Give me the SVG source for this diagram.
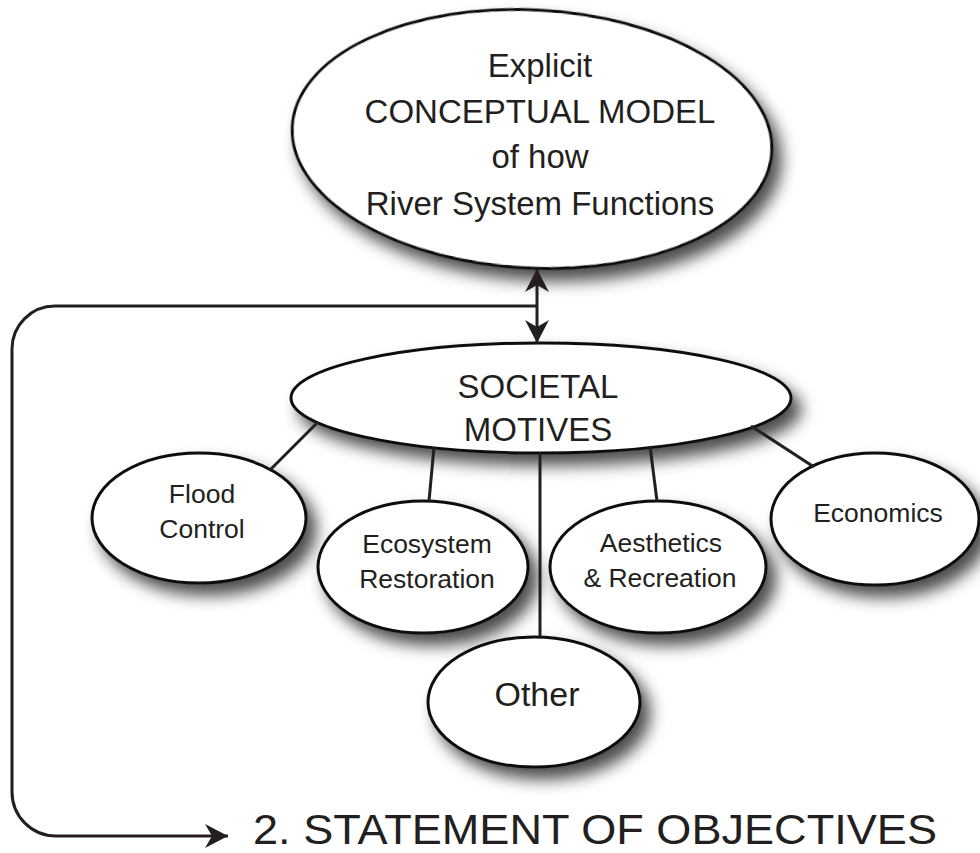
<svg xmlns="http://www.w3.org/2000/svg" width="980" height="853" viewBox="0 0 980 853">
<style>
.node{fill:#fff;stroke:#111;stroke-width:3;filter:url(#shadow)}
.lbl{font-family:"Liberation Sans",Arial,sans-serif;fill:#231f20;text-anchor:middle}
.big{font-size:33px}
.small{font-size:26.5px}
.conn{fill:none;stroke:#231f20;stroke-width:3}
</style>
<defs>
<filter id="shadow" x="-20%" y="-20%" width="150%" height="160%">
<feDropShadow dx="9" dy="11" stdDeviation="8" flood-color="#000" flood-opacity="0.7"/>
</filter>
<marker id="arr" viewBox="-24 -13 26 26" refX="0" refY="0" markerWidth="26" markerHeight="26" markerUnits="userSpaceOnUse" orient="auto-start-reverse">
<path d="M0,0 L-23,-12 L-16,0 L-23,12 Z" fill="#231f20"/>
</marker>
</defs>
<g id="node-model">
<ellipse class="node" cx="532" cy="139" rx="240" ry="129" transform="rotate(3 532 139)"/>
<text class="lbl big" x="540" y="77">Explicit</text>
<text class="lbl big" x="540" y="123">CONCEPTUAL MODEL</text>
<text class="lbl big" x="540" y="168">of how</text>
<text class="lbl big" x="540" y="215">River System Functions</text>
</g>
<g id="node-societal">
<ellipse class="node" cx="541" cy="398" rx="250" ry="55"/>
<text class="lbl big" x="538" y="398">SOCIETAL</text>
<text class="lbl big" x="538" y="441">MOTIVES</text>
</g>
<g id="node-flood">
<ellipse class="node" cx="199" cy="518" rx="107" ry="65"/>
<text class="lbl small" x="202" y="503">Flood</text>
<text class="lbl small" x="202" y="538">Control</text>
</g>
<g id="node-ecosystem">
<ellipse class="node" cx="423" cy="567" rx="105" ry="66"/>
<text class="lbl small" x="427" y="553">Ecosystem</text>
<text class="lbl small" x="427" y="588">Restoration</text>
</g>
<g id="node-aesthetics">
<ellipse class="node" cx="658" cy="567" rx="108" ry="66"/>
<text class="lbl small" x="661" y="552">Aesthetics</text>
<text class="lbl small" x="660" y="587">&amp; Recreation</text>
</g>
<g id="node-economics">
<ellipse class="node" cx="875" cy="519" rx="104" ry="66"/>
<text class="lbl small" x="878" y="522">Economics</text>
</g>
<g id="node-other">
<ellipse class="node" cx="534" cy="702" rx="106" ry="65"/>
<text class="lbl" style="font-size:34px" x="537" y="706">Other</text>
</g>
<g id="node-objectives">
<text class="lbl" style="font-size:42px;text-anchor:start" x="253" y="844" textLength="684" lengthAdjust="spacingAndGlyphs">2. STATEMENT OF OBJECTIVES</text>
</g>
<g id="connectors">
<line class="conn" x1="537" y1="269" x2="537" y2="343" marker-start="url(#arr)" marker-end="url(#arr)"/>
<path class="conn" d="M537,306 H55 A43,43 0 0 0 12,349 V792 A44,44 0 0 0 56,836 H228" marker-end="url(#arr)"/>
<line class="conn" x1="318" y1="422" x2="270" y2="470"/>
<line class="conn" x1="434" y1="447" x2="429" y2="501"/>
<line class="conn" x1="540" y1="453" x2="540" y2="637"/>
<line class="conn" x1="650" y1="446" x2="657" y2="501"/>
<line class="conn" x1="751" y1="426" x2="814" y2="467"/>
</g>
</svg>
